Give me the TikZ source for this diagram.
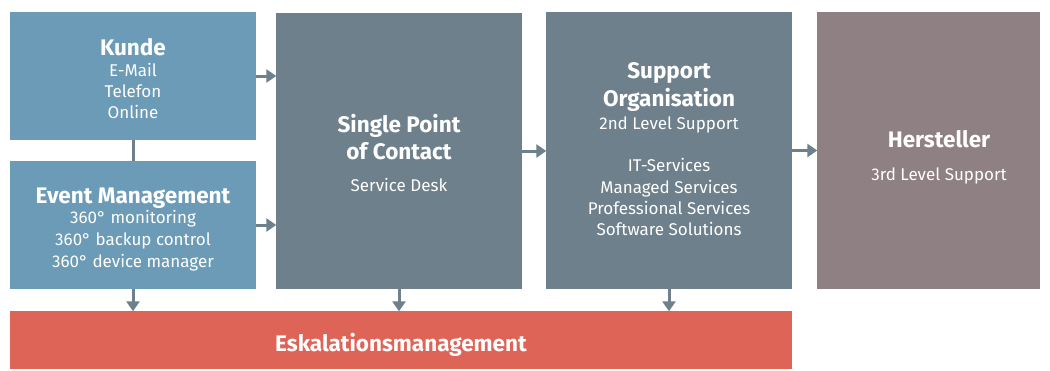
\documentclass[tikz,border=0pt]{standalone}
\usepackage{fontspec}
\setmainfont{Fira Sans}
\usetikzlibrary{arrows.meta}
\definecolor{cblue}{RGB}{107,155,182}
\definecolor{cgray}{RGB}{109,128,139}
\definecolor{cmauve}{RGB}{143,128,131}
\definecolor{cred}{RGB}{221,100,86}
\tikzset{
  box/.style={draw=none, inner sep=0pt, minimum width=246pt},
  ttl/.style={anchor=base, text=white, inner sep=0pt, font=\fontsize{22.5}{26}\selectfont\bfseries},
  sub/.style={anchor=base, text=white, inner sep=0pt, font=\fontsize{17}{20}\selectfont},
  conn/.style={draw=cgray, line width=3pt},
  arr/.style={conn, -{Triangle[width=13pt,length=10pt]}, shorten >=-0.5pt}
}
\begin{document}
\begin{tikzpicture}[x=1pt,y=-1pt]
\useasboundingbox (0,0) rectangle (1050,370);
% boxes
\node[box, fill=cblue, minimum height=128pt] (kunde) at (133,76) {};
\node[box, fill=cblue, minimum height=128pt] (event) at (133,225) {};
\node[box, fill=cgray, minimum height=276pt] (spoc) at (399,151) {};
\node[box, fill=cgray, minimum height=277pt] (supp) at (669,150.5) {};
\node[box, fill=cmauve, minimum width=223pt, minimum height=277pt] (herst) at (928.5,150.5) {};
\node[box, fill=cred, minimum width=782pt, minimum height=58pt] (eskal) at (401,340) {};
% texts
\node[ttl] (tk) at (133,55) {Kunde};
\node[sub] (tk1) at (133,76) {E-Mail};
\node[sub] (tk2) at (133,97) {Telefon};
\node[sub] (tk3) at (133,118) {Online};
\node[ttl] (te) at (133,203) {Event Management};
\node[sub] (te1) at (133,223) {360° monitoring};
\node[sub] (te2) at (133,245) {360° backup control};
\node[sub] (te3) at (133,267) {360° device manager};
\node[ttl] (ts) at (399,132) {Single Point};
\node[ttl] (ts2) at (399,159) {of Contact};
\node[sub] (ts3) at (399,191) {Service Desk};
\node[ttl] (to) at (669,78) {Support};
\node[ttl] (to2) at (669,106) {Organisation};
\node[sub] (to3) at (669,129) {2nd Level Support};
\node[sub] (to4) at (669,171) {IT-Services};
\node[sub] (to5) at (669,193) {Managed Services};
\node[sub] (to6) at (669,214) {Professional Services};
\node[sub] (to7) at (669,235) {Software Solutions};
\node[ttl] (th) at (939,147) {Hersteller};
\node[sub] (th2) at (939,180) {3rd Level Support};
\node[ttl] (tesk) at (401,351) {Eskalationsmanagement};
% connectors
\draw[conn] (kunde.south) -- (event.north);
\draw[arr] (kunde.east) -- (kunde.east -| spoc.west);
\draw[arr] (event.east) -- (event.east -| spoc.west);
\draw[arr] (spoc.east) -- (spoc.east -| supp.west);
\draw[arr] (supp.east) -- (supp.east -| herst.west);
\draw[arr] (event.south) -- (event.south |- eskal.north);
\draw[arr] (spoc.south) -- (spoc.south |- eskal.north);
\draw[arr] (supp.south) -- (supp.south |- eskal.north);
\end{tikzpicture}
\end{document}
